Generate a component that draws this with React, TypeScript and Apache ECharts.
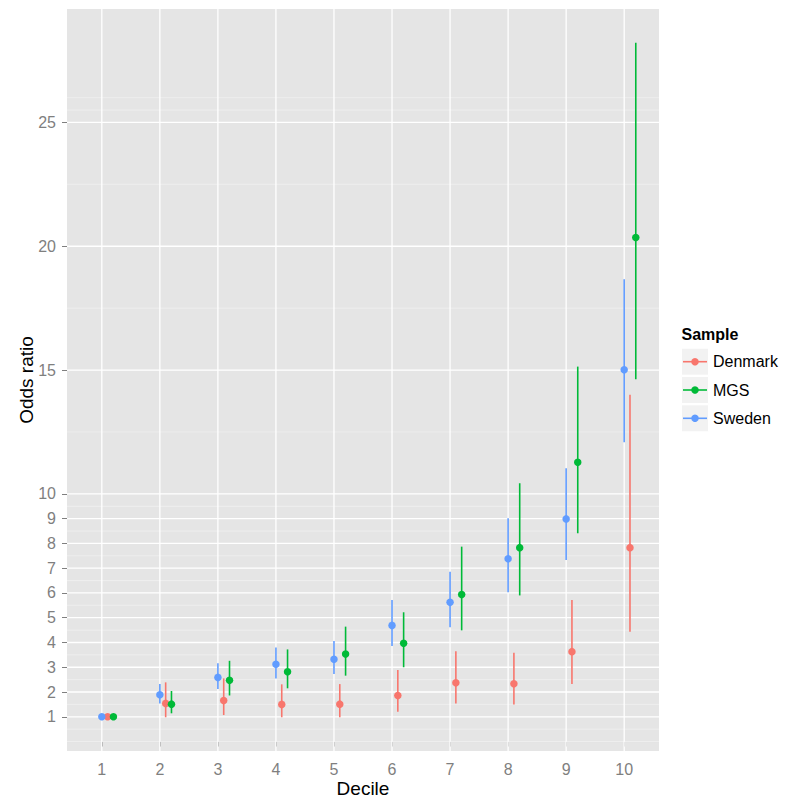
import React, { useEffect, useRef } from "react";
import * as echarts from "echarts";

// ---- data ----
const deciles = [1, 2, 3, 4, 5, 6, 7, 8, 9, 10];
const sampleNames = ["Denmark", "MGS", "Sweden"];
const sampleColors = ["#F8766D", "#00BA38", "#619CFF"];
const sampleOffsets = [0.1, 0.2, 0];

const denmarkOR = [1, 1.54, 1.66, 1.5, 1.51, 1.86, 2.37, 2.33, 3.63, 7.83];
const denmarkLo = [1, 0.98, 1.07, 0.98, 0.98, 1.2, 1.54, 1.5, 2.32, 4.43];
const denmarkHi = [1, 2.39, 2.55, 2.31, 2.32, 2.89, 3.65, 3.59, 5.72, 14.0];

const mgsOR = [1, 1.51, 2.47, 2.82, 3.53, 3.97, 5.94, 7.83, 11.28, 20.35];
const mgsLo = [1, 1.14, 1.86, 2.15, 2.66, 3.0, 4.49, 5.9, 8.41, 14.63];
const mgsHi = [1, 2.04, 3.26, 3.72, 4.64, 5.22, 7.87, 10.43, 15.14, 28.22];

const swedenOR = [1, 1.89, 2.59, 3.12, 3.32, 4.69, 5.62, 7.38, 8.99, 15.01];
const swedenLo = [1, 1.54, 2.12, 2.55, 2.73, 3.86, 4.61, 6.03, 7.33, 12.09];
const swedenHi = [1, 2.32, 3.16, 3.8, 4.06, 5.72, 6.86, 9.02, 11.04, 18.67];

const yMajorTicks = [1, 2, 3, 4, 5, 6, 7, 8, 9, 10, 15, 20, 25];
const yMinorTicks = [0, 0.5, 1.5, 2.5, 3.5, 4.5, 5.5, 6.5, 7.5, 8.5, 9.5, 12.5, 17.5, 22.5, 25.5, 26];

const X_MIN = 0.4;
const X_MAX = 10.6;
const Y_MIN = -0.382;
const Y_MAX = 29.58;

const FONT = "'Liberation Sans', Arial, Helvetica, sans-serif";

export default function App() {
  const ref = useRef<HTMLDivElement>(null);

  useEffect(() => {
    if (!ref.current) return;
    const chart = echarts.init(ref.current, null, { renderer: "svg" });

    const ors = [denmarkOR, mgsOR, swedenOR];
    const los = [denmarkLo, mgsLo, swedenLo];
    const his = [denmarkHi, mgsHi, swedenHi];

    const gridLineSeries = (name: string, data: number[][], color: string, width: number) => ({
      type: "custom",
      name,
      silent: true,
      z: 1,
      data,
      encode: { x: [0, 2], y: [1, 3] },
      renderItem: (_p: any, api: any) => {
        const a = api.coord([api.value(0), api.value(1)]);
        const b = api.coord([api.value(2), api.value(3)]);
        return {
          type: "line",
          shape: { x1: a[0], y1: a[1], x2: b[0], y2: b[1] },
          style: { stroke: color, lineWidth: width },
        };
      },
    });

    const minorData = yMinorTicks.map((v) => [X_MIN, v, X_MAX, v]);
    const majorData = [
      ...yMajorTicks.map((v) => [X_MIN, v, X_MAX, v]),
      ...deciles.map((d) => [d, Y_MIN, d, Y_MAX]),
    ];

    const errSeries = sampleNames.map((name, s) => ({
      type: "custom",
      name: name + " CI",
      silent: true,
      z: 3,
      data: deciles.map((d, i) => [d + sampleOffsets[s], los[s][i], his[s][i]]),
      encode: { x: 0, y: [1, 2] },
      renderItem: (_p: any, api: any) => {
        const a = api.coord([api.value(0), api.value(1)]);
        const b = api.coord([api.value(0), api.value(2)]);
        return {
          type: "line",
          shape: { x1: a[0], y1: a[1], x2: b[0], y2: b[1] },
          style: { stroke: sampleColors[s], lineWidth: 1.6 },
        };
      },
    }));

    const pointSeries = sampleNames.map((name, s) => ({
      type: "scatter",
      name,
      z: 4,
      symbol: "circle",
      symbolSize: 7.5,
      itemStyle: { color: sampleColors[s], opacity: 1 },
      data: deciles.map((d, i) => [d + sampleOffsets[s], ors[s][i]]),
    }));

    const legendGraphics: any[] = [
      {
        type: "text",
        left: 681.5,
        top: 326,
        style: { text: "Sample", fontSize: 16, fontWeight: "bold", fill: "#000", fontFamily: FONT },
      },
    ];
    sampleNames.forEach((name, s) => {
      const yc = 361.7 + 28.3 * s;
      legendGraphics.push(
        {
          type: "rect",
          shape: { x: 681.5, y: yc - 13.5, width: 27, height: 27 },
          style: { fill: "#F2F2F2", stroke: "#FFFFFF", lineWidth: 1 },
        },
        {
          type: "line",
          shape: { x1: 683, y1: yc, x2: 707, y2: yc },
          style: { stroke: sampleColors[s], lineWidth: 1.6 },
        },
        {
          type: "circle",
          shape: { cx: 695, cy: yc, r: 3.75 },
          style: { fill: sampleColors[s] },
        },
        {
          type: "text",
          x: 713,
          y: yc,
          style: { text: name, fontSize: 16, fill: "#000", fontFamily: FONT, verticalAlign: "middle", align: "left" },
        }
      );
    });

    const option: any = {
      animation: false,
      backgroundColor: "#FFFFFF",
      textStyle: { fontFamily: FONT },
      grid: {
        left: 67,
        top: 9,
        width: 592,
        height: 742,
        show: true,
        backgroundColor: "#E5E5E5",
        borderWidth: 0,
        containLabel: false,
      },
      xAxis: {
        type: "value",
        min: X_MIN,
        max: X_MAX,
        axisLine: { show: false },
        splitLine: { show: false },
        axisTick: {
          show: true,
          customValues: deciles,
          length: 5,
          lineStyle: { color: "#7F7F7F", width: 1 },
        },
        axisLabel: {
          show: true,
          customValues: deciles,
          color: "#7F7F7F",
          fontSize: 16,
          margin: 10,
          fontFamily: FONT,
        },
      },
      yAxis: {
        type: "value",
        min: Y_MIN,
        max: Y_MAX,
        axisLine: { show: false },
        splitLine: { show: false },
        axisTick: {
          show: true,
          customValues: yMajorTicks,
          length: 5,
          lineStyle: { color: "#7F7F7F", width: 1 },
        },
        axisLabel: {
          show: true,
          customValues: yMajorTicks,
          color: "#7F7F7F",
          fontSize: 16,
          margin: 11,
          fontFamily: FONT,
        },
      },
      graphic: [
        {
          type: "text",
          x: 363,
          y: 788,
          style: { text: "Decile", fontSize: 19, fill: "#000", fontFamily: FONT, align: "center", verticalAlign: "middle" },
        },
        {
          type: "text",
          x: 26,
          y: 380,
          rotation: Math.PI / 2,
          style: { text: "Odds ratio", fontSize: 19, fill: "#000", fontFamily: FONT, align: "center", verticalAlign: "middle" },
        },
        ...legendGraphics,
      ],
      series: [
        gridLineSeries("minor grid", minorData, "#F2F2F2", 0.7),
        gridLineSeries("major grid", majorData, "#FFFFFF", 1.3),
        ...errSeries,
        ...pointSeries,
      ],
    };

    chart.setOption(option);
    return () => chart.dispose();
  }, []);

  return (
    <div
      ref={ref}
      style={{ position: "fixed", left: 0, top: 0, width: 800, height: 805 }}
    />
  );
}
